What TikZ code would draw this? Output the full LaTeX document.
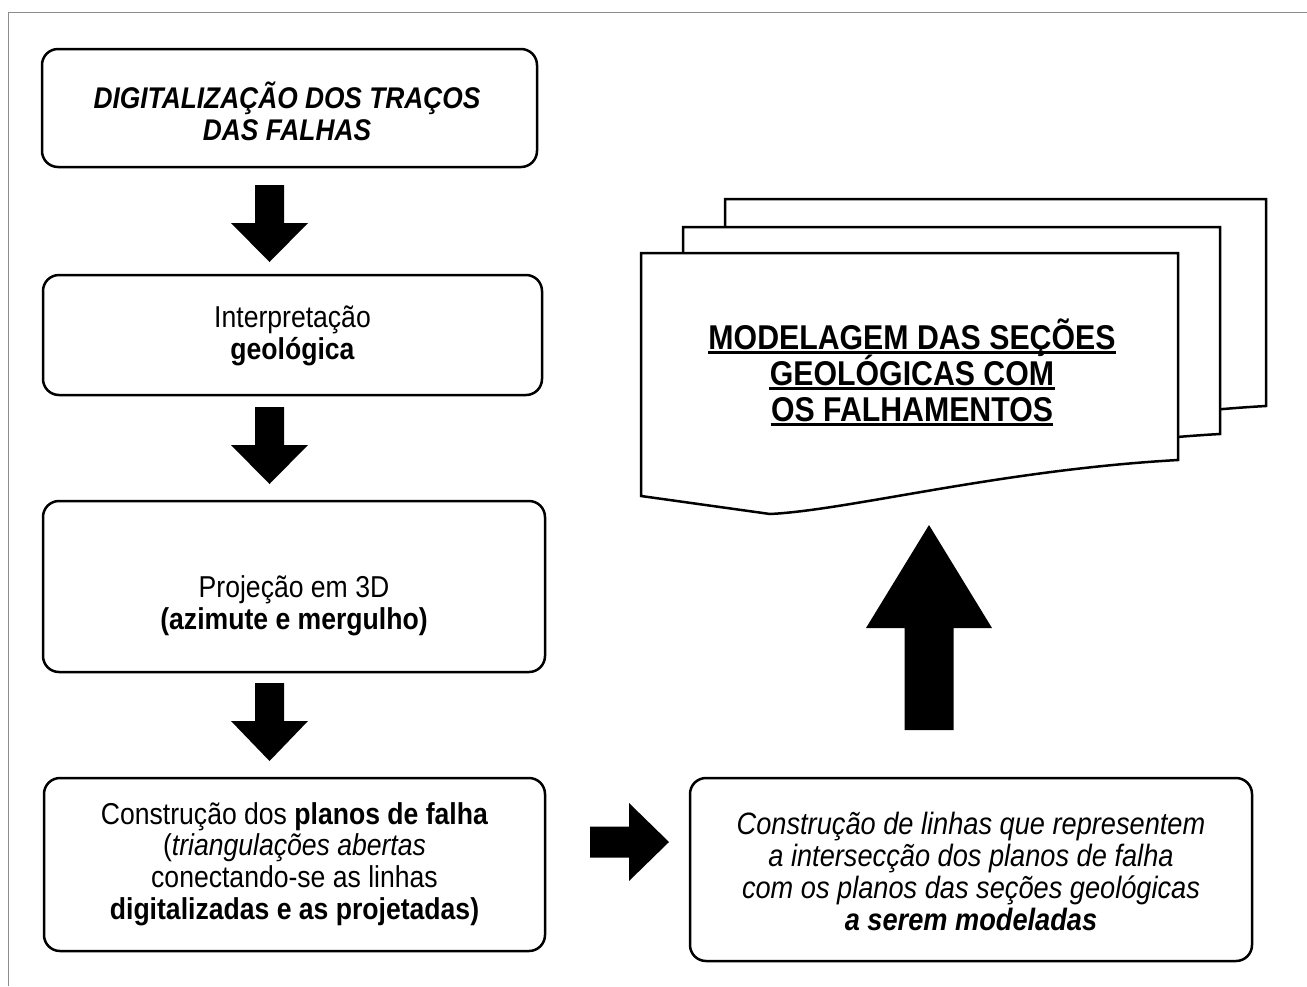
\documentclass[tikz,border=0pt]{standalone}
\usepackage{fontspec}
\setmainfont{Liberation Sans}[FakeStretch=0.88]
\newcommand\vArrow[6]{\fill (#1-#5,#2) -- (#1+#5,#2) -- (#1+#5,#3) -- (#1+#6,#3) -- (#1,#4) -- (#1-#6,#3) -- (#1-#5,#3) -- cycle;}
\newcommand\hArrow[6]{\fill (#2,#1-#5) -- (#3,#1-#5) -- (#3,#1-#6) -- (#4,#1) -- (#3,#1+#6) -- (#3,#1+#5) -- (#2,#1+#5) -- cycle;}
\begin{document}
\begin{tikzpicture}[x=0.5pt,y=-0.5pt,
  box/.style={draw, line width=1.25pt, rounded corners=8pt, inner sep=0pt},
  txt/.style={align=center, inner sep=0pt, font=\fontsize{15.1pt}{15.9pt}\selectfont},
  doc/.style={draw, fill=white, line width=1.25pt, line join=miter},
  doctxt/.style={inner sep=0pt, anchor=base, font=\fontsize{17.2pt}{18pt}\selectfont\bfseries},
  uline/.style={line width=1.7pt},
  frame/.style={draw=black!45, line width=0.5pt}]
\useasboundingbox (0,0) rectangle (1307,986);
\fill[white] (0,0) rectangle (1307,986);
% frame
\draw[frame] (8,986) -- (8,12) -- (1307,12);
% left column boxes
\node[box, minimum width=247.5pt, minimum height=59pt] (b1) at (289.5,108) {};
\node[txt, font=\fontsize{14.95pt}{16pt}\selectfont\bfseries\itshape] (t1) at (287,111) {DIGITALIZAÇÃO DOS TRAÇOS\\DAS FALHAS};
\node[box, minimum width=249.5pt, minimum height=60pt] (b2) at (292.5,335) {};
\node[txt] (t2) at (292.5,336) {Interpretação\\\textbf{geológica}};
\node[box, minimum width=251pt, minimum height=85.5pt] (b3) at (294,586.5) {};
\node[txt] (t3) at (294,606) {Projeção em 3D\\\textbf{(azimute e mergulho)}};
\node[box, minimum width=250.5pt, minimum height=86.5pt] (b4) at (294.5,864.5) {};
\node[txt] (t4) at (294.5,864) {Construção dos \textbf{planos de falha}\\(\textit{triangulações abertas}\\conectando-se as linhas\\\textbf{digitalizadas e as projetadas)}};
\node[box, minimum width=281pt, minimum height=91.5pt] (b5) at (971,869.5) {};
\node[txt, font=\fontsize{15.45pt}{16pt}\selectfont\itshape] (t5) at (971,871) {Construção de linhas que representem\\a intersecção dos planos de falha\\com os planos das seções geológicas\\\textbf{a serem modeladas}};
% arrows
\vArrow{269.5}{185}{223}{262}{14.5}{38.5}
\vArrow{269.5}{407}{445}{484}{14.5}{38.5}
\vArrow{269.5}{683}{721}{761}{14.5}{38.5}
\hArrow{842}{590}{629}{669}{15.5}{39}
\vArrow{929}{730}{628}{525}{24.5}{63}
% document stack
\path[doc] (725,199) -- (1266,199) -- (1266,406) .. controls (1088,416) and (938,456) .. (858,460) -- (725,442) -- cycle;
\path[doc] (683,227) -- (1220,227) -- (1220,434) .. controls (1042,444) and (892,484) .. (812,488) -- (683,470) -- cycle;
\path[doc] (641,253) -- (1178,253) -- (1178,460) .. controls (1000,470) and (850,510) .. (770,514) -- (641,496) -- cycle;
\node[doctxt] (m1) at (912,349) {MODELAGEM DAS SEÇÕES};
\node[doctxt] (m2) at (912,385) {GEOLÓGICAS COM};
\node[doctxt] (m3) at (912,421) {OS FALHAMENTOS};
\foreach \m in {m1,m2,m3}{
  \draw[uline] ([yshift=-1.6pt]\m.base west) -- ([yshift=-1.6pt]\m.base east);
}
\end{tikzpicture}
\end{document}
